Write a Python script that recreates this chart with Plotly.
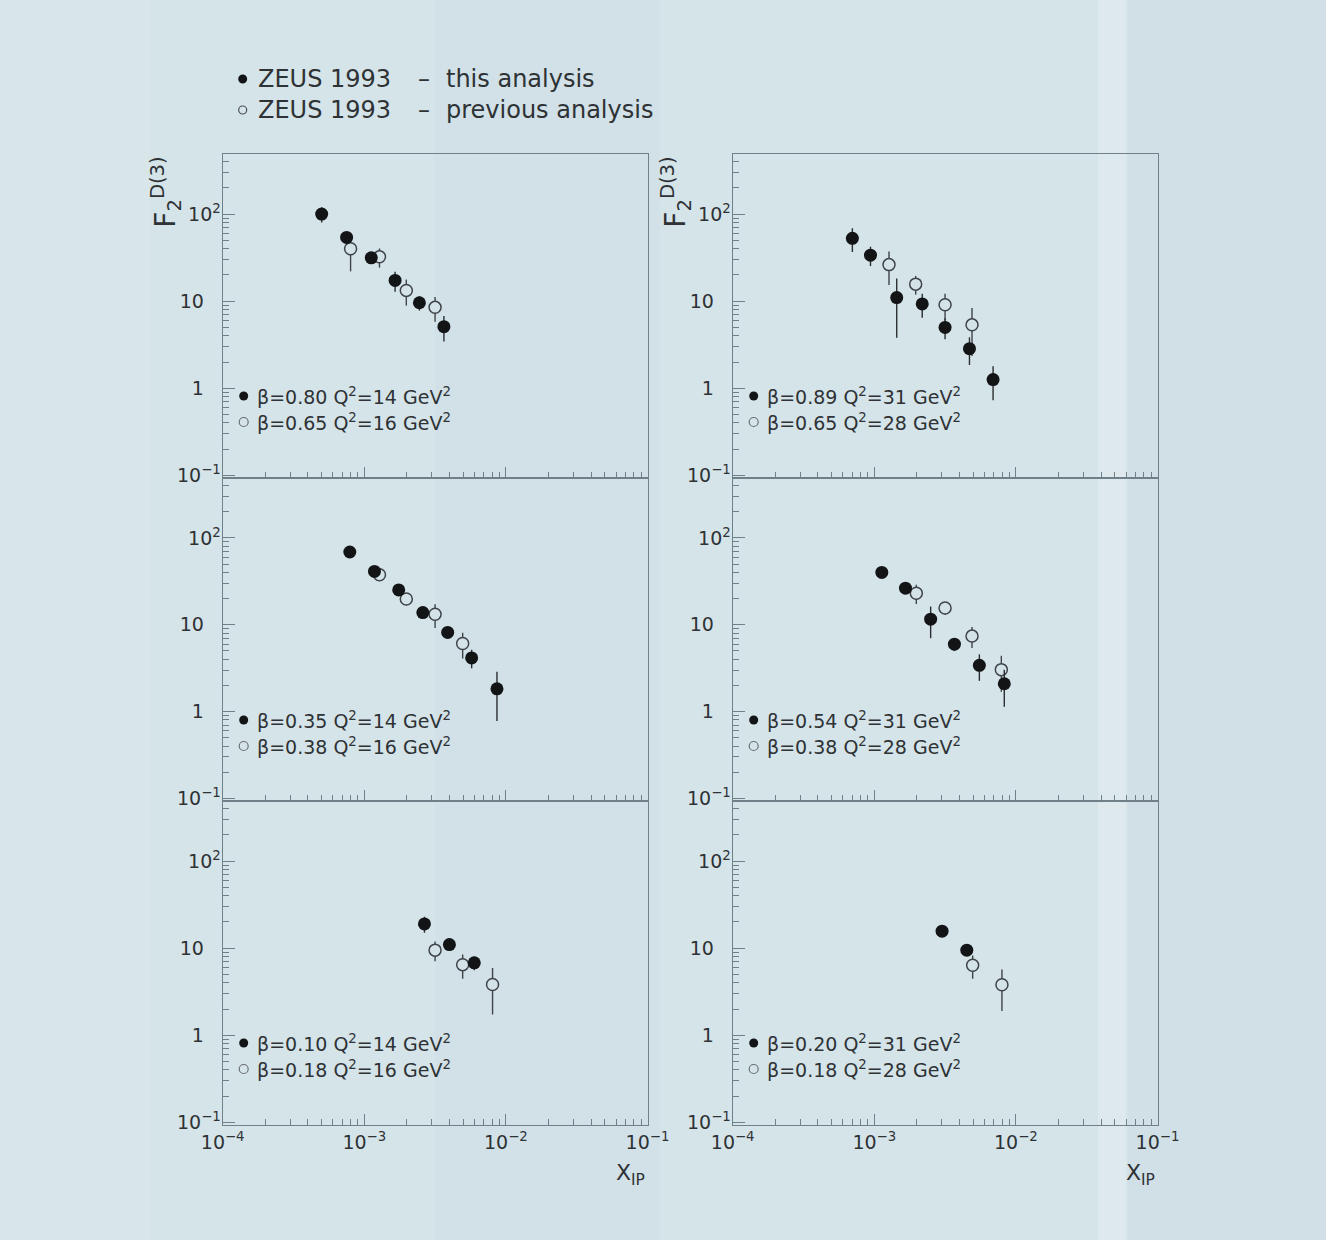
import plotly.graph_objects as go

W, H = 1326, 1240

# ---------------- data ----------------
# panel order: top-left, top-right, mid-left, mid-right, bottom-left, bottom-right
tl_this_x = [5.0e-4, 7.5e-4, 1.12e-3, 1.65e-3, 2.45e-3, 3.65e-3]
tl_this_y = [100, 54, 31.5, 17.3, 9.6, 5.1]
tl_this_e = [20, 6, 4, 4.5, 1.8, 1.65]
tl_prev_x = [8.0e-4, 1.28e-3, 1.98e-3, 3.16e-3]
tl_prev_y = [40, 32.3, 13.3, 8.5]
tl_prev_e = [18, 8, 4.4, 2.7]

tr_this_x = [7.0e-4, 9.4e-4, 1.44e-3, 2.18e-3, 3.16e-3, 4.7e-3, 6.9e-3]
tr_this_y = [52.7, 33.8, 11, 9.3, 5.0, 2.85, 1.26]
tr_this_e = [16, 8.5, 7.2, 2.85, 1.35, 1.0, 0.53]
tr_prev_x = [1.27e-3, 1.96e-3, 3.16e-3, 4.9e-3]
tr_prev_y = [26.3, 15.7, 9.1, 5.35]
tr_prev_e = [11, 3.8, 3.1, 3.0]

ml_this_x = [7.9e-4, 1.18e-3, 1.75e-3, 2.59e-3, 3.88e-3, 5.73e-3, 8.65e-3]
ml_this_y = [68.8, 41.1, 25.2, 13.8, 8.15, 4.15, 1.83]
ml_this_e = [5, 4, 3, 1.8, 1.1, 1.0, 1.05]
ml_prev_x = [1.28e-3, 1.98e-3, 3.16e-3, 4.95e-3]
ml_prev_y = [37.6, 19.8, 13.2, 6.08]
ml_prev_e = [5, 3, 4, 2]

mr_this_x = [1.13e-3, 1.66e-3, 2.5e-3, 3.68e-3, 5.52e-3, 8.28e-3]
mr_this_y = [40, 26.4, 11.6, 5.97, 3.41, 2.09]
mr_this_e = [4, 3, 4.6, 1.0, 1.15, 0.95]
mr_prev_x = [1.98e-3, 3.16e-3, 4.9e-3, 7.89e-3]
mr_prev_y = [23.1, 15.6, 7.4, 3.04]
mr_prev_e = [5.8, 2.6, 2.0, 1.35]

bl_this_x = [2.66e-3, 3.99e-3, 5.98e-3]
bl_this_y = [19, 11, 6.8]
bl_this_e = [4, 1.5, 1.2]
bl_prev_x = [3.16e-3, 4.95e-3, 8.05e-3]
bl_prev_y = [9.5, 6.47, 3.83]
bl_prev_e = [2.4, 2.0, 2.1]

br_this_x = [3.01e-3, 4.5e-3]
br_this_y = [15.7, 9.5]
br_this_e = [2, 1.3]
br_prev_x = [4.95e-3, 7.97e-3]
br_prev_y = [6.36, 3.8]
br_prev_e = [1.9, 1.9]

legend_this = ["β=0.80 Q<sup>2</sup>=14 GeV<sup>2</sup>", "β=0.89 Q<sup>2</sup>=31 GeV<sup>2</sup>",
               "β=0.35 Q<sup>2</sup>=14 GeV<sup>2</sup>", "β=0.54 Q<sup>2</sup>=31 GeV<sup>2</sup>",
               "β=0.10 Q<sup>2</sup>=14 GeV<sup>2</sup>", "β=0.20 Q<sup>2</sup>=31 GeV<sup>2</sup>"]
legend_prev = ["β=0.65 Q<sup>2</sup>=16 GeV<sup>2</sup>", "β=0.65 Q<sup>2</sup>=28 GeV<sup>2</sup>",
               "β=0.38 Q<sup>2</sup>=16 GeV<sup>2</sup>", "β=0.38 Q<sup>2</sup>=28 GeV<sup>2</sup>",
               "β=0.18 Q<sup>2</sup>=16 GeV<sup>2</sup>", "β=0.18 Q<sup>2</sup>=28 GeV<sup>2</sup>"]

x_tickvals = [1e-4, 1e-3, 1e-2, 1e-1]
x_ticktext = ["10<sup>−4</sup>", "10<sup>−3</sup>", "10<sup>−2</sup>", "10<sup>−1</sup>"]
y_tickvals = [0.1, 1, 10, 100]
y_ticktext = ["10<sup>−1</sup>", "1<sup>\u2007\u2007</sup>", "10<sup>\u2007\u2007</sup>", "10<sup>2</sup>"]

this_sets = [(tl_this_x, tl_this_y, tl_this_e), (tr_this_x, tr_this_y, tr_this_e),
             (ml_this_x, ml_this_y, ml_this_e), (mr_this_x, mr_this_y, mr_this_e),
             (bl_this_x, bl_this_y, bl_this_e), (br_this_x, br_this_y, br_this_e)]
prev_sets = [(tl_prev_x, tl_prev_y, tl_prev_e), (tr_prev_x, tr_prev_y, tr_prev_e),
             (ml_prev_x, ml_prev_y, ml_prev_e), (mr_prev_x, mr_prev_y, mr_prev_e),
             (bl_prev_x, bl_prev_y, bl_prev_e), (br_prev_x, br_prev_y, br_prev_e)]

# ---------------- style / layout ----------------
FONT = "DejaVu Sans"
TXT = "#2e3235"
FRAME = "#6f8089"
BG = "#d5e4e9"
OPEN_FILL = "#d4e3e8"

col_px = [(222.7, 647.5), (732.7, 1157.5)]
row_px = [(154, 478), (478, 801), (801, 1125)]


def px_x(p):
    return p / W


def px_y(p):
    return 1 - p / H


minor_x = [m * 10.0 ** e for e in range(-4, -1) for m in range(2, 10)]
minor_y = [v for v in (m * 10.0 ** e for e in range(-1, 3) for m in range(2, 10)) if v < 480]

fig = go.Figure()
layout = dict(
    width=W, height=H, autosize=False,
    margin=dict(l=0, r=0, t=0, b=0, pad=0, autoexpand=False),
    paper_bgcolor=BG, plot_bgcolor="rgba(0,0,0,0)",
    showlegend=False,
    font=dict(family=FONT, color=TXT, size=18),
)

annotations = []
shapes = []

# subtle background scan bands
bands = [(0, 150, "#d8e6ea"), (435, 660, "#d1e1e7"), (1098, 1126, "#dde9ec"), (1128, 1326, "#d0e0e6")]
for x0, x1, c in bands:
    shapes.append(dict(type="rect", xref="paper", yref="paper", x0=px_x(x0), x1=px_x(x1),
                       y0=0, y1=1, fillcolor=c, line=dict(width=0), layer="below"))

for i in range(6):
    r, c = divmod(i, 2)
    k = i + 1
    xa = "xaxis" if k == 1 else f"xaxis{k}"
    ya = "yaxis" if k == 1 else f"yaxis{k}"
    xr = "x" if k == 1 else f"x{k}"
    yr = "y" if k == 1 else f"y{k}"
    (cl, cr), (rt, rb) = col_px[c], row_px[r]
    layout[xa] = dict(
        type="log", range=[-4, -1], domain=[px_x(cl), px_x(cr)], anchor=yr,
        showline=True, linecolor=FRAME, linewidth=1.3, mirror=True,
        ticks="inside", ticklen=11, tickwidth=1.2, tickcolor=FRAME,
        tickmode="array", tickvals=x_tickvals, ticktext=x_ticktext,
        showticklabels=(r == 2), tickfont=dict(size=19, family=FONT, color=TXT),
        minor=dict(tickmode="array", tickvals=minor_x, ticks="inside", ticklen=6,
                   tickwidth=1.1, tickcolor=FRAME, showgrid=False),
        showgrid=False, zeroline=False, fixedrange=True, automargin=False,
    )
    layout[ya] = dict(
        type="log", range=[-1.03, 2.69], domain=[px_y(rb), px_y(rt)], anchor=xr,
        showline=True, linecolor=FRAME, linewidth=1.3, mirror=True,
        ticks="inside", ticklen=12, tickwidth=1.2, tickcolor=FRAME,
        tickmode="array", tickvals=y_tickvals, ticktext=y_ticktext,
        tickfont=dict(size=19, family=FONT, color=TXT), ticklabelstandoff=-3,
        minor=dict(tickmode="array", tickvals=minor_y, ticks="inside", ticklen=6,
                   tickwidth=1.1, tickcolor=FRAME, showgrid=False),
        showgrid=False, zeroline=False, fixedrange=True, automargin=False,
    )

    px_, py_, pe_ = prev_sets[i]
    fig.add_trace(go.Scatter(
        x=px_, y=py_, mode="markers", xaxis=xr, yaxis=yr,
        marker=dict(symbol="circle", size=12, color=OPEN_FILL, line=dict(color="#3f4448", width=1.5)),
        error_y=dict(type="data", array=pe_, symmetric=True, width=0, thickness=1.4, color="#3f4448"),
    ))
    tx_, ty_, te_ = this_sets[i]
    fig.add_trace(go.Scatter(
        x=tx_, y=ty_, mode="markers", xaxis=xr, yaxis=yr,
        marker=dict(symbol="circle", size=13, color="#121416", line=dict(width=0)),
        error_y=dict(type="data", array=te_, symmetric=True, width=0, thickness=1.4, color="#2a2e31"),
    ))

    # in-panel legend
    for j, (txt, filled) in enumerate([(legend_this[i], True), (legend_prev[i], False)]):
        cy = rt + 242 + 26 * j
        cx = cl + 21
        rad = 4.5
        shapes.append(dict(type="circle", xref="paper", yref="paper",
                           x0=px_x(cx - rad), x1=px_x(cx + rad), y0=px_y(cy + rad), y1=px_y(cy - rad),
                           fillcolor="#121416" if filled else "rgba(0,0,0,0)",
                           line=dict(color="#121416" if filled else "#6a7075", width=0 if filled else 1.2)))
        annotations.append(dict(xref="paper", yref="paper", x=px_x(cl + 32), y=px_y(cy),
                                xanchor="left", yanchor="middle", showarrow=False, text=txt,
                                font=dict(size=19, family=FONT, color=TXT)))

    if r == 0:
        annotations.append(dict(xref="paper", yref="paper", x=px_x(cl - 56), y=px_y(192),
                                xanchor="center", yanchor="middle", showarrow=False, textangle=-90,
                                text="F<sub>2</sub><sup>D(3)</sup>",
                                font=dict(size=28, family=FONT, color=TXT)))
    if r == 2:
        annotations.append(dict(xref="paper", yref="paper", x=px_x(cr - 34), y=px_y(1174),
                                xanchor="left", yanchor="middle", showarrow=False,
                                text="X<sub>IP</sub>", font=dict(size=22, family=FONT, color=TXT)))

# top legend
for j, (filled, rest) in enumerate([(True, "this analysis"), (False, "previous analysis")]):
    cy = 79 + 31 * j
    rad = 4.5 if filled else 4.0
    shapes.append(dict(type="circle", xref="paper", yref="paper",
                       x0=px_x(242.7 - rad), x1=px_x(242.7 + rad), y0=px_y(cy + rad), y1=px_y(cy - rad),
                       fillcolor="#121416" if filled else "rgba(0,0,0,0)",
                       line=dict(color="#121416" if filled else "#4a4f53", width=0 if filled else 1.2)))
    for xx, t in [(256, "ZEUS 1993"), (416, "–"), (444, rest)]:
        annotations.append(dict(xref="paper", yref="paper", x=px_x(xx), y=px_y(cy),
                                xanchor="left", yanchor="middle", showarrow=False, text=t,
                                font=dict(size=24, family=FONT, color=TXT)))

layout["annotations"] = annotations
layout["shapes"] = shapes
fig.update_layout(**layout)
fig.write_html(
    "out.html",
    config={"responsive": False, "displayModeBar": False},
    post_script="document.body.style.margin='0';document.body.style.overflow='hidden';",
)
